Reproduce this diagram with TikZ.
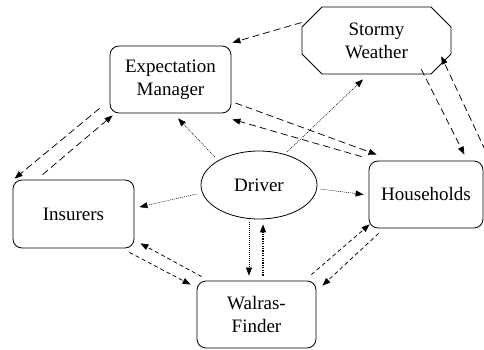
\documentclass[tikz,border=0pt]{standalone}
\usepackage{fontspec}
\setmainfont{Liberation Serif}
\usetikzlibrary{arrows.meta,shapes.misc,shapes.geometric}
\begin{document}
\begin{tikzpicture}[x=1pt,y=-1pt,
  box/.style={draw,line width=0.8pt,rounded corners=9pt,align=center,inner sep=0pt},
  oct/.style={draw,line width=0.8pt,chamfered rectangle,chamfered rectangle xsep=17pt,align=center,inner sep=0pt},
  ell/.style={draw,line width=0.8pt,ellipse,inner sep=0pt},
  tip/.style={-{Triangle[length=8pt,width=6pt]}},
  ldash/.style={tip,line width=0.75pt,dash pattern=on 7pt off 4pt},
  sdash/.style={tip,line width=0.75pt,dash pattern=on 4pt off 3pt},
  dotline/.style={tip,line width=0.5pt,dash pattern=on 1pt off 1pt},
  thickdot/.style={tip,line width=1.1pt,dash pattern=on 1.2pt off 1.2pt},
  every node/.style={font=\fontsize{19}{23}\selectfont}]
\useasboundingbox (0,0) rectangle (484,350);
\node[box,minimum width=121pt,minimum height=67pt] (em) at (170.5,79.5) {Expectation\\Manager};
\node[oct,minimum width=149pt,minimum height=67pt] (sw) at (376.5,40.5) {Stormy\\Weather};
\node[box,minimum width=121pt,minimum height=68pt] (ins) at (73.5,214) {Insurers};
\node[box,minimum width=119pt,minimum height=67pt] (wf) at (256.5,314.5) {Walras-\\Finder};
\node[box,minimum width=114pt,minimum height=67pt] (hh) at (426,194.5) {Households};
\node[ell,minimum width=116pt,minimum height=68pt] (dr) at (259,185) {Driver};
% long dashed
\draw[ldash] ([shift={(0,-18)}]sw.west) -- ([shift={(1,-3)}]em.north east);
\draw[ldash] ([shift={(4,23.5)}]em.east) -- ([shift={(8,-6)}]hh.north west);
\draw[ldash] ([shift={(-7,-4)}]hh.north west) -- ([shift={(1,6)}]em.south east);
\draw[ldash] ([shift={(-20,5)}]sw.south east) -- ([shift={(-19,-6)}]hh.north east);
\draw[ldash] ([shift={(2,-10)}]hh.north east) -- ([shift={(0,-8)}]sw.south east);
\draw[ldash] ([shift={(-10,-5)}]em.south west) -- ([shift={(2,-1)}]ins.north west);
\draw[ldash] ([shift={(30,-5)}]ins.north west) -- ([shift={(3,2)}]em.south west);
% dotted
\draw[dotline] ([shift={(-44,-28)}]dr.center) -- ([shift={(7.5,5)}]em.south);
\draw[dotline] ([shift={(28,-33)}]dr.center) -- ([shift={(-13.5,5)}]sw.south);
\draw[dotline] ([shift={(-4,9)}]dr.west) -- ([shift={(5,-7)}]ins.east);
\draw[dotline] ([shift={(3,4)}]dr.east) -- ([shift={(-5,0)}]hh.west);
\draw[dotline] ([shift={(-10,3)}]dr.south) -- ([shift={(-7.5,-5)}]wf.north);
\draw[thickdot] ([shift={(6.5,-5)}]wf.north) -- ([shift={(4,5)}]dr.south);
% short dashed
\draw[sdash] ([shift={(-5,4)}]ins.south east) -- ([shift={(-6,4)}]wf.north west);
\draw[sdash] ([shift={(5,-4)}]wf.north west) -- ([shift={(6,-5)}]ins.south east);
\draw[sdash] ([shift={(-5,-6)}]wf.north east) -- ([shift={(1,-4)}]hh.south west);
\draw[sdash] ([shift={(10,5)}]hh.south west) -- ([shift={(6,5)}]wf.north east);
\end{tikzpicture}
\end{document}
